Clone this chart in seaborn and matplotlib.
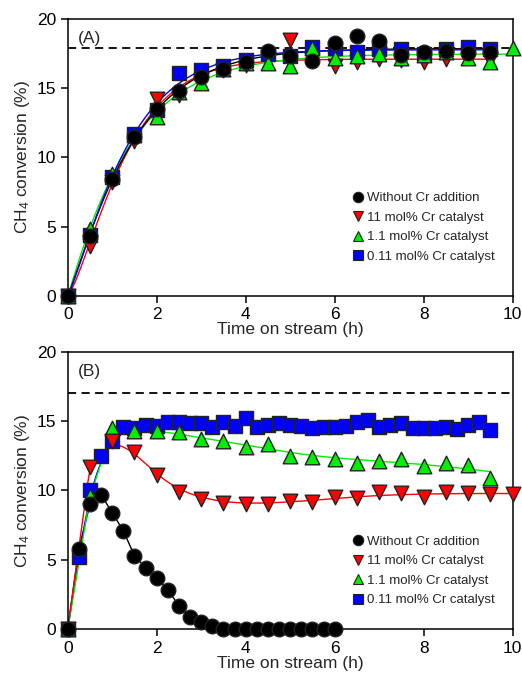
import numpy as np
import pandas as pd
import matplotlib
matplotlib.use("Agg")
import matplotlib.pyplot as plt
import seaborn as sns
from matplotlib.lines import Line2D

sns.set_theme(style="ticks")
plt.rcParams['font.family'] = ['Liberation Sans', 'DejaVu Sans']
plt.rcParams['mathtext.default'] = 'regular'

# ---------------- Panel A data ----------------
tA = [0, 0.5, 1, 1.5, 2, 2.5, 3, 3.5, 4, 4.5, 5, 5.5, 6, 6.5, 7, 7.5, 8, 8.5, 9, 9.5]
tA_green = tA + [10]
a_black = [0, 4.3, 8.4, 11.5, 13.5, 14.8, 15.8, 16.4, 16.9, 17.7, 17.3, 16.96, 18.3, 18.77, 18.43, 17.4, 17.64, 17.7, 17.57, 17.64]
a_red = [0, 3.6, 8.2, 11.2, 14.2, 14.5, 15.6, 16.3, 16.7, 17.0, 18.5, 17.0, 16.6, 16.9, 17.1, 17.0, 16.9, 17.1, 17.3, 17.0]
a_green = [0, 4.8, 8.8, 11.6, 12.9, 14.7, 15.4, 16.4, 16.8, 16.8, 16.6, 17.9, 17.2, 17.3, 17.5, 17.2, 17.4, 17.6, 17.2, 16.9, 17.9]
a_blue = [0, 4.4, 8.6, 11.7, 13.4, 16.1, 16.3, 16.6, 17.0, 17.5, 17.3, 18.0, 17.9, 17.6, 17.8, 17.8, 17.5, 17.8, 18.0, 17.8]
eq_A = 17.9

# ---------------- Panel B data ----------------
tB_black = [0, 0.25, 0.5, 0.75, 1.0, 1.25, 1.5, 1.75, 2.0, 2.25, 2.5, 2.75, 3.0, 3.25,
            3.5, 3.75, 4.0, 4.25, 4.5, 4.75, 5.0, 5.25, 5.5, 5.75, 6.0]
b_black = [0, 5.8, 9.0, 9.7, 8.4, 7.1, 5.3, 4.45, 3.7, 2.85, 1.7, 0.9, 0.55, 0.25,
           0, 0, 0, 0, 0, 0, 0, 0, 0, 0, 0]
tB_red = [0, 0.5, 1, 1.5, 2, 2.5, 3, 3.5, 4, 4.5, 5, 5.5, 6, 6.5, 7, 7.5, 8, 8.5, 9, 9.5, 10]
b_red = [0, 11.7, 13.6, 12.8, 11.1, 9.9, 9.4, 9.1, 9.0, 9.0, 9.25, 9.15, 9.5, 9.45, 9.9, 9.8, 9.55, 9.9, 9.85, 9.75, 9.75]
tB_green = [0, 0.5, 1, 1.5, 2, 2.5, 3, 3.5, 4, 4.5, 5, 5.5, 6, 6.5, 7, 7.5, 8, 8.5, 9, 9.5]
b_green = [0, 9.6, 14.5, 14.3, 14.3, 14.2, 13.7, 13.6, 13.1, 13.35, 12.5, 12.4, 12.25, 11.95, 12.1, 12.3, 11.75, 12.0, 11.85, 10.9]
tB_blue = [0, 0.25, 0.5, 0.75, 1.0, 1.25, 1.5, 1.75, 2.0, 2.25, 2.5, 2.75, 3.0, 3.25, 3.5, 3.75,
           4.0, 4.25, 4.5, 4.75, 5.0, 5.25, 5.5, 5.75, 6.0, 6.25, 6.5, 6.75, 7.0, 7.25, 7.5, 7.75,
           8.0, 8.25, 8.5, 8.75, 9.0, 9.25, 9.5]
b_blue = [0, 5.2, 10.0, 12.5, 13.55, 14.55, 14.5, 14.7, 14.65, 14.95, 14.95, 14.85, 14.85, 14.55, 14.95, 14.65,
          15.2, 14.55, 14.7, 14.85, 14.7, 14.65, 14.5, 14.6, 14.6, 14.65, 14.9, 15.1, 14.55, 14.7, 14.85, 14.5,
          14.5, 14.5, 14.55, 14.4, 14.75, 14.95, 14.35]
eq_B = 17.05

labels = ["Without Cr addition", "11 mol% Cr catalyst", "1.1 mol% Cr catalyst", "0.11 mol% Cr catalyst"]
colors = {"black": "#000000", "red": "#ff0000", "green": "#00ee00", "blue": "#0000ff"}
markers = {"black": "o", "red": "v", "green": "^", "blue": "s"}


def avrami_fit(t, y):
    t = np.asarray(t, float); y = np.asarray(y, float)
    best = None
    for n in np.linspace(0.8, 2.0, 61):
        for k in np.linspace(0.2, 2.0, 181):
            b = 1 - np.exp(-(k * t) ** n)
            A = b.dot(y) / b.dot(b)
            sse = ((A * b - y) ** 2).sum()
            if best is None or sse < best[0]:
                best = (sse, A, k, n)
    _, A, k, n = best
    tt = np.linspace(0, t.max(), 300)
    return tt, A * (1 - np.exp(-(k * tt) ** n))


def kernel_smooth(t, y, h0, h1):
    t = np.asarray(t, float); y = np.asarray(y, float)
    tt = np.linspace(0, t.max(), 400)
    out = []
    for x in tt:
        h = h0 + h1 * x
        w = np.exp(-0.5 * ((t - x) / h) ** 2)
        X = np.vstack([np.ones_like(t), t - x]).T
        W = np.diag(w)
        beta = np.linalg.lstsq(X.T @ W @ X, X.T @ W @ y, rcond=None)[0]
        out.append(beta[0])
    return tt, np.array(out)


fig = plt.figure(figsize=(5.22, 6.78), dpi=100)
axA = fig.add_axes([0.1297, 0.5639, 0.8525, 0.4081])
axB = fig.add_axes([0.1297, 0.0718, 0.8525, 0.4095])

ms = 10.5
mew = 1.0
FS = 12.5

# ---- Panel A ----
seriesA = {
    "red": (tA, a_red),
    "blue": (tA, a_blue),
    "green": (tA_green, a_green),
    "black": (tA, a_black),
}
for i, key in enumerate(["red", "green", "black", "blue"]):
    t, y = seriesA[key]
    tt, yy = avrami_fit(t, y)
    sns.lineplot(x=tt, y=yy, ax=axA, color=colors[key], lw=1.0, zorder=2 + i * 0.1,
                 estimator=None, sort=False)
for i, key in enumerate(["red", "blue", "green", "black"]):
    t, y = seriesA[key]
    df = pd.DataFrame({"t": t, "y": y})
    sns.scatterplot(data=df, x="t", y="y", ax=axA, marker=markers[key], s=ms ** 2,
                    color=colors[key], edgecolor="#222222", linewidth=mew, zorder=4 + i, clip_on=False)
axA.axhline(eq_A, color="black", lw=1.3, ls=(0, (4.5, 3)), zorder=1)

# ---- Panel B ----
seriesB = {
    "blue": (tB_blue, b_blue),
    "green": (tB_green, b_green),
    "red": (tB_red, b_red),
    "black": (tB_black, b_black),
}
sns.lineplot(x=tB_black, y=b_black, ax=axB, color="black", lw=1.0, zorder=2, estimator=None, sort=False)
for key, (h0, h1) in {"blue": (0.12, 0.12), "green": (0.12, 0.17), "red": (0.13, 0.12)}.items():
    t, y = seriesB[key]
    tt, yy = kernel_smooth(t, y, h0, h1)
    sns.lineplot(x=tt, y=yy, ax=axB, color=colors[key], lw=1.0, zorder=2, estimator=None, sort=False)
for i, key in enumerate(["blue", "green", "red", "black"]):
    t, y = seriesB[key]
    df = pd.DataFrame({"t": t, "y": y})
    sns.scatterplot(data=df, x="t", y="y", ax=axB, marker=markers[key], s=ms ** 2,
                    color=colors[key], edgecolor="#222222", linewidth=mew, zorder=4 + i, clip_on=False)
axB.axhline(eq_B, color="black", lw=1.3, ls=(0, (4.5, 3)), zorder=1)

for ax, tag, leg_y in [(axA, "(A)", 0.1), (axB, "(B)", 0.064)]:
    ax.set_xlim(0, 10)
    ax.set_ylim(0, 20)
    ax.set_xticks([0, 2, 4, 6, 8, 10])
    ax.set_yticks([0, 5, 10, 15, 20])
    for sp in ax.spines.values():
        sp.set_visible(True)
        sp.set_linewidth(1.1)
        sp.set_color("black")
    ax.tick_params(axis="both", direction="out", length=5, width=1.1, labelsize=FS,
                   colors="black", pad=3.5, top=False, right=False)
    ax.set_xlabel("Time on stream (h)", fontsize=FS, labelpad=0)
    ax.set_ylabel("CH$_4$ conversion (%)", fontsize=FS, labelpad=3)
    ax.text(0.022, 0.955, tag, transform=ax.transAxes, fontsize=FS, va="top", ha="left")
    handles = [Line2D([], [], ls="none", marker=markers[k], markersize=7.5, markerfacecolor=colors[k],
                      markeredgecolor="#222222", markeredgewidth=0.8)
               for k in ["black", "red", "green", "blue"]]
    ax.legend(handles, labels, loc="lower right", bbox_to_anchor=(0.972, leg_y), frameon=False,
              fontsize=9.5, handletextpad=0.2, labelspacing=0.55, handlelength=1.0, borderaxespad=0)
    ax.set_facecolor("white")

fig.patch.set_facecolor("white")
fig.savefig("out.png", dpi=100, facecolor="white")
